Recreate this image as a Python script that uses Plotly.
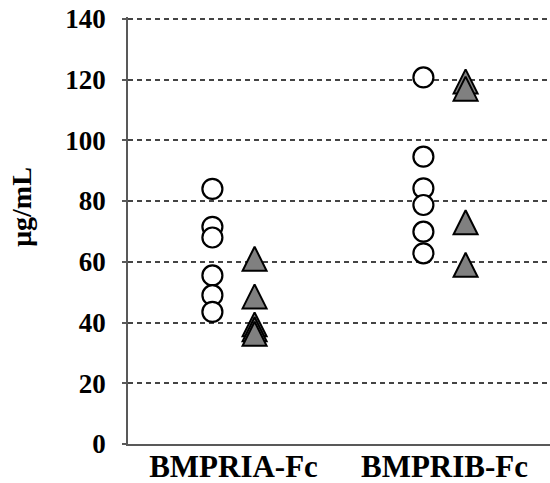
import plotly.graph_objects as go

# ---- data ----
categories = ["BMPRIA-Fc", "BMPRIB-Fc"]
circles_A = [84, 71.5, 68, 55.5, 49, 43.5]
circles_B = [120.7, 94.6, 84.2, 78.7, 69.9, 62.8]
triangles_A = [61, 48.6, 39.4, 37.8, 36.3]
triangles_B = [119.4, 117, 73, 59]
y_tick_vals = [0, 20, 40, 60, 80, 100, 120, 140]

# ---- style ----
FONT = "Liberation Serif, Times New Roman, serif"
OFFSET = 0.1          # horizontal shift of the two series within a category
CIRCLE_SIZE = 20
TRI_SIZE = 24

def xs(cat_index, n, shift):
    return [cat_index + shift] * n

circ_x = xs(0, len(circles_A), -OFFSET) + xs(1, len(circles_B), -OFFSET)
circ_y = circles_A + circles_B
tri_x = xs(0, len(triangles_A), OFFSET) + xs(1, len(triangles_B), OFFSET)
tri_y = triangles_A + triangles_B

fig = go.Figure()
fig.add_trace(go.Scatter(
    x=circ_x, y=circ_y, mode="markers",
    marker=dict(symbol="circle", size=CIRCLE_SIZE, color="white",
                line=dict(color="black", width=2.2)),
    showlegend=False, cliponaxis=False,
))
fig.add_trace(go.Scatter(
    x=tri_x, y=tri_y, mode="markers",
    marker=dict(symbol="arrow-down", angle=180, standoff=TRI_SIZE / 2,
                size=TRI_SIZE, color="#808080",
                line=dict(color="black", width=2)),
    showlegend=False, cliponaxis=False,
))

fig.update_layout(
    width=550, height=483,
    margin=dict(l=128, r=0, t=17, b=39),
    plot_bgcolor="white", paper_bgcolor="white",
    font=dict(family=FONT, color="black"),
    xaxis=dict(
        range=[-0.5, 1.5], tickvals=[0, 1], ticktext=categories,
        showgrid=False, zeroline=False, showline=True,
        linecolor="#595959", linewidth=1.5, ticks="",
        tickfont=dict(family=FONT, size=31, weight="bold", color="black"),
        ticklabelstandoff=-6, automargin=False,
    ),
    yaxis=dict(
        range=[0, 140.6], tickvals=y_tick_vals,
        showgrid=True, gridcolor="#444444", gridwidth=1.5, griddash="5px,4px",
        zeroline=False, showline=True, linecolor="#595959", linewidth=1.5,
        ticks="outside", ticklen=4, tickcolor="#595959", tickwidth=1.5,
        tickfont=dict(family=FONT, size=27, weight="bold", color="black"),
        ticklabelstandoff=11, automargin=False,
    ),
    annotations=[dict(
        text="μg/mL", xref="paper", yref="paper",
        x=-0.254, y=0.555, xanchor="center", yanchor="middle",
        textangle=-90, showarrow=False,
        font=dict(family=FONT, size=28, weight="bold", color="black"),
    )],
)

fig.write_html(
    "out.html",
    config={"displayModeBar": False},
    post_script="document.body.style.margin='0';document.body.style.overflow='hidden';",
)
